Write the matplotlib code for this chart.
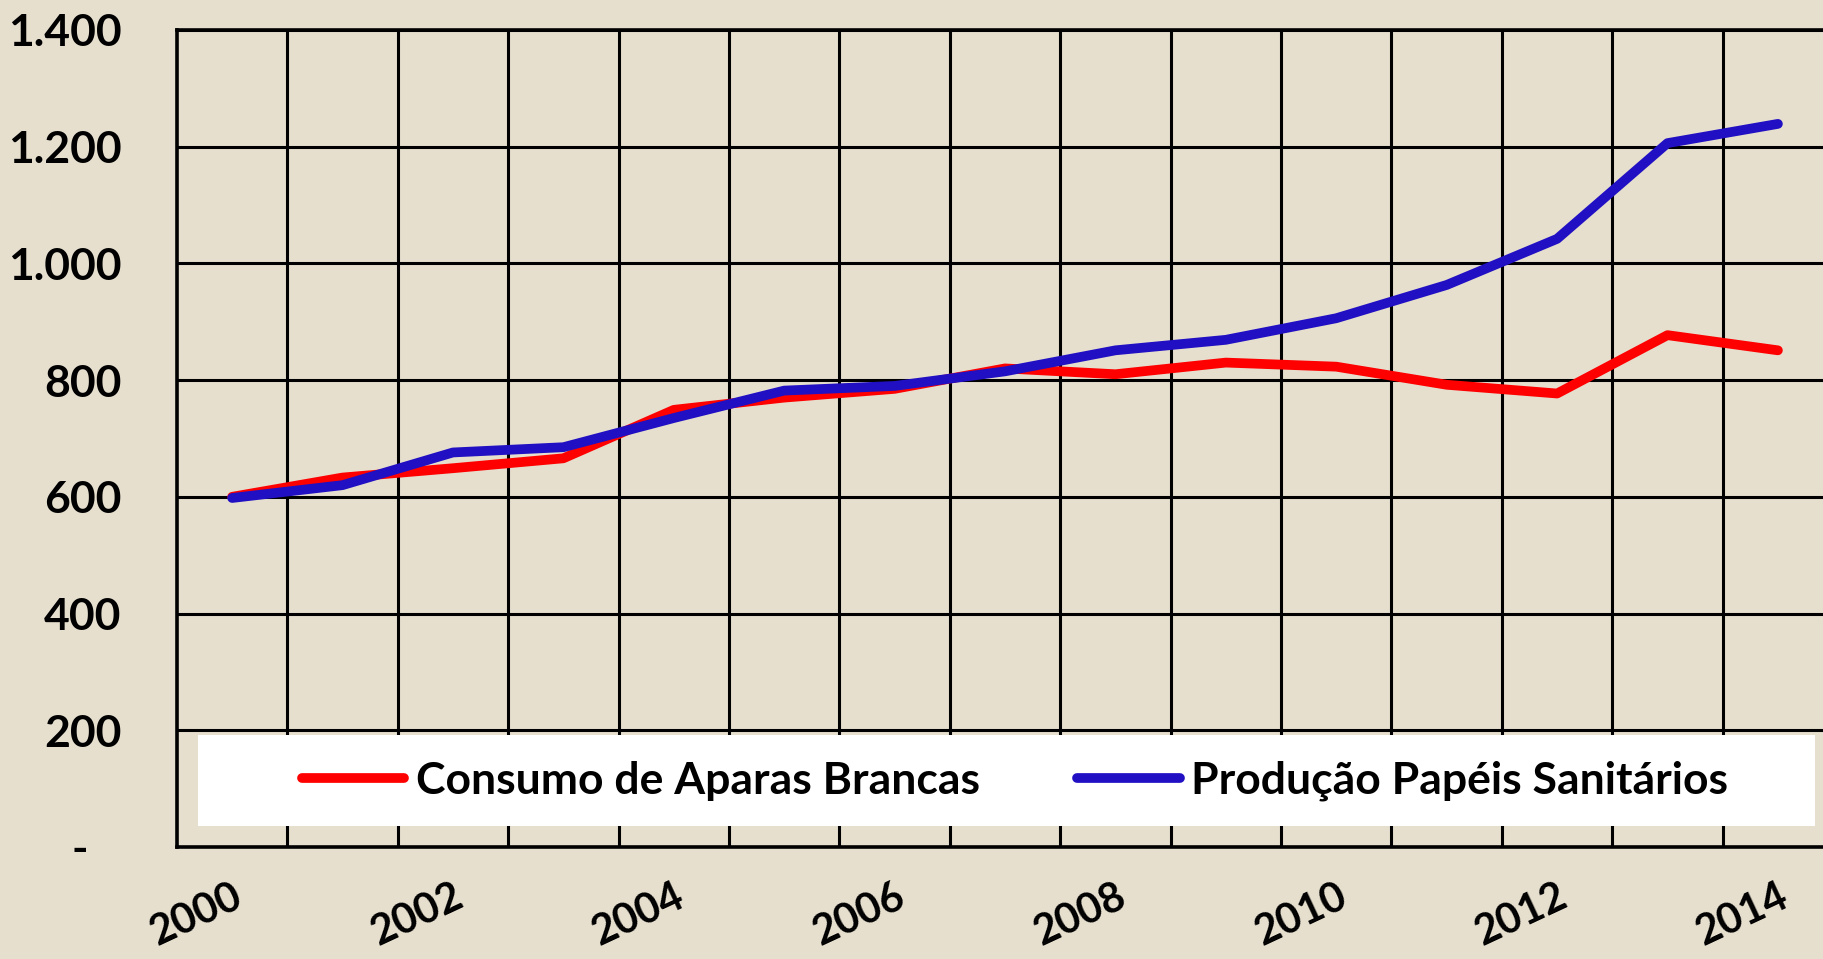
import matplotlib
matplotlib.use("Agg")
import matplotlib.pyplot as plt
from matplotlib.patches import Rectangle
from matplotlib.ticker import FixedLocator

# dados
anos = list(range(2000, 2015))
aparas = [600, 633, 649, 666, 749, 770, 785, 820, 810, 830, 823, 792, 777, 877, 851]
sanitarios = [598, 620, 676, 685, 735, 782, 790, 815, 851, 869, 906, 963, 1042, 1206, 1239]
yticks = [0, 200, 400, 600, 800, 1000, 1200, 1400]
ylabels = ["-   ", "200", "400", "600", "800", "1.000", "1.200", "1.400"]
nomes = ["Consumo de Aparas Brancas", "Produção Papéis Sanitários"]

bg = "#E6DFCE"
plt.rcParams['font.family'] = ['Lato', 'DejaVu Sans']
plt.rcParams['font.weight'] = 'bold'

fig = plt.figure(figsize=(18.24, 9.59), dpi=100)
fig.patch.set_facecolor(bg)
ax = fig.add_axes([0.097, 0.1168, 0.908, 0.852])
ax.set_facecolor(bg)

x = list(range(len(anos)))
ax.plot(x, aparas, color="#FF0000", lw=7, solid_capstyle="round",
        solid_joinstyle="round", zorder=3, label=nomes[0])
ax.plot(x, sanitarios, color="#200FC3", lw=7, solid_capstyle="round",
        solid_joinstyle="round", zorder=4, label=nomes[1])

ax.set_xlim(-0.5, len(anos) - 0.5)
ax.set_ylim(0, 1400)

# grade nas fronteiras das categorias
ax.xaxis.set_minor_locator(FixedLocator([i + 0.5 for i in range(len(anos))]))
ax.set_yticks(yticks)
ax.set_yticklabels(ylabels)
ax.grid(which="minor", axis="x", color="black", lw=2.2, zorder=0.5)
ax.grid(which="major", axis="y", color="black", lw=2.2, zorder=0.5)
ax.set_axisbelow(True)

ax.set_xticks(x[::2])
ax.set_xticklabels([str(a) for a in anos[::2]], rotation=25, ha="right",
                   rotation_mode="anchor", fontsize=30, fontweight="bold")
ax.tick_params(axis="x", which="both", length=0, pad=22)
ax.tick_params(axis="y", length=0, pad=40, labelsize=32)
for t in ax.get_yticklabels():
    t.set_fontweight("bold")

for s in ax.spines.values():
    s.set_color("black")
    s.set_linewidth(2.6)

# caixa branca da legenda
ax.add_patch(Rectangle((0.0127, 0.0257), 0.9765, 0.111, transform=ax.transAxes,
                       facecolor="white", edgecolor="none", zorder=2))
leg = ax.legend(loc="center", bbox_to_anchor=(0.506, 0.081), ncol=2, frameon=False,
                handlelength=2.3, handletextpad=0.26, columnspacing=2.2,
                prop={"weight": "bold", "size": 32})
leg.set_zorder(6)

plt.savefig("out.png", dpi=100, facecolor=bg)
